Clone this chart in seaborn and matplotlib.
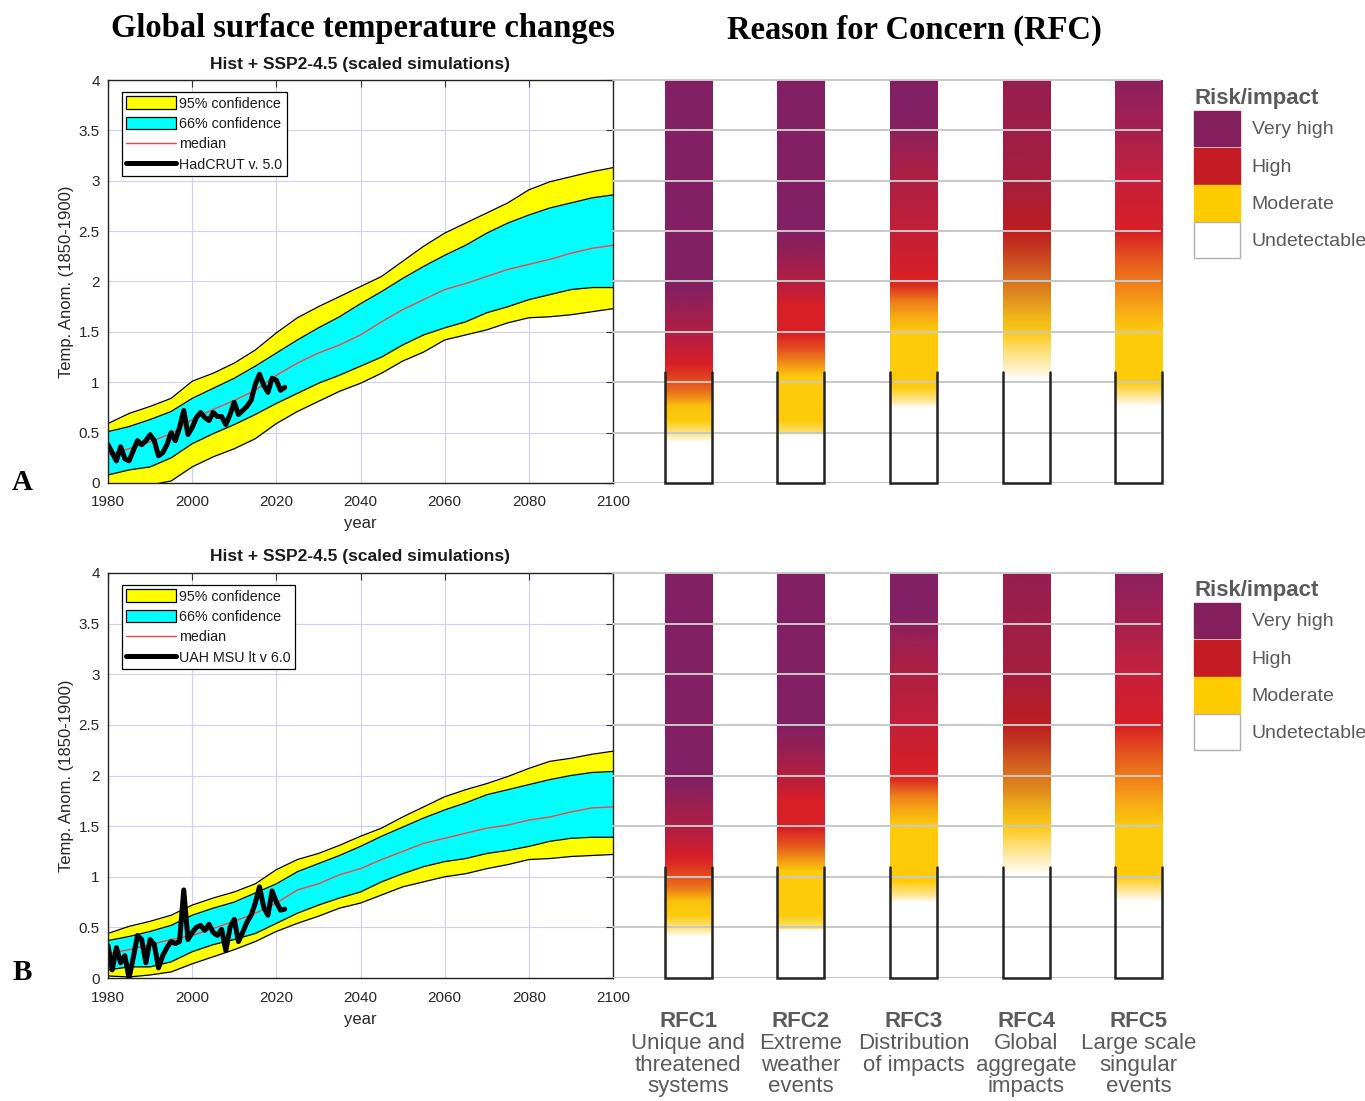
import numpy as np
import pandas as pd
import matplotlib
matplotlib.use("Agg")
import matplotlib.pyplot as plt
import seaborn as sns
from matplotlib.colors import LinearSegmentedColormap
from matplotlib.patches import Patch
from matplotlib.lines import Line2D
from matplotlib import font_manager
from matplotlib.transforms import blended_transform_factory

# ---------------------------------------------------------------- data
band_years = list(range(1980, 2101, 5))

# Panel A: Hist + SSP2-4.5 scaled simulations (HadCRUT-scaled)
a_hi95 = [0.59, 0.69, 0.76, 0.84, 1.01, 1.09, 1.19, 1.32, 1.49, 1.64, 1.75, 1.85, 1.95,
          2.05, 2.20, 2.35, 2.48, 2.58, 2.68, 2.78, 2.91, 2.99, 3.04, 3.09, 3.13]
a_hi66 = [0.51, 0.56, 0.63, 0.71, 0.84, 0.94, 1.04, 1.16, 1.29, 1.42, 1.54, 1.65, 1.78,
          1.90, 2.03, 2.15, 2.26, 2.36, 2.48, 2.58, 2.66, 2.73, 2.78, 2.83, 2.86]
a_med = [0.28, 0.34, 0.41, 0.49, 0.63, 0.73, 0.82, 0.92, 1.07, 1.19, 1.29, 1.37, 1.47,
         1.60, 1.72, 1.82, 1.92, 1.98, 2.05, 2.12, 2.17, 2.22, 2.28, 2.33, 2.36]
a_lo66 = [0.08, 0.13, 0.16, 0.25, 0.39, 0.49, 0.58, 0.68, 0.79, 0.89, 0.99, 1.07, 1.16,
          1.25, 1.37, 1.47, 1.54, 1.60, 1.69, 1.75, 1.82, 1.87, 1.92, 1.94, 1.94]
a_lo95 = [-0.15, -0.08, -0.02, 0.02, 0.16, 0.26, 0.34, 0.44, 0.59, 0.71, 0.81, 0.91, 0.99,
          1.09, 1.21, 1.30, 1.42, 1.47, 1.52, 1.59, 1.64, 1.65, 1.67, 1.70, 1.73]

# Panel B: Hist + SSP2-4.5 scaled simulations (UAH-scaled)
b_hi95 = [0.44, 0.51, 0.56, 0.62, 0.72, 0.79, 0.85, 0.93, 1.07, 1.17, 1.23, 1.31, 1.40,
          1.48, 1.59, 1.69, 1.79, 1.86, 1.92, 1.99, 2.07, 2.14, 2.17, 2.21, 2.24]
b_hi66 = [0.37, 0.41, 0.46, 0.52, 0.62, 0.69, 0.75, 0.84, 0.93, 1.05, 1.13, 1.21, 1.30,
          1.40, 1.49, 1.58, 1.66, 1.73, 1.81, 1.86, 1.91, 1.96, 2.00, 2.03, 2.04]
b_med = [0.24, 0.28, 0.33, 0.38, 0.42, 0.49, 0.56, 0.64, 0.74, 0.87, 0.93, 1.02, 1.08,
         1.17, 1.25, 1.33, 1.38, 1.43, 1.48, 1.51, 1.56, 1.59, 1.64, 1.68, 1.69]
b_lo66 = [0.08, 0.11, 0.11, 0.16, 0.26, 0.33, 0.38, 0.44, 0.54, 0.64, 0.72, 0.79, 0.85,
          0.95, 1.03, 1.10, 1.15, 1.18, 1.23, 1.26, 1.30, 1.35, 1.38, 1.39, 1.39]
b_lo95 = [0.02, 0.01, 0.03, 0.06, 0.14, 0.21, 0.28, 0.36, 0.46, 0.54, 0.61, 0.69, 0.74,
          0.82, 0.90, 0.95, 1.00, 1.03, 1.08, 1.12, 1.17, 1.18, 1.20, 1.21, 1.22]

obs_years = list(range(1980, 2023))
hadcrut = [0.38, 0.30, 0.22, 0.36, 0.24, 0.22, 0.32, 0.42, 0.38, 0.42,
           0.48, 0.42, 0.27, 0.30, 0.38, 0.50, 0.42, 0.55, 0.72, 0.48,
           0.55, 0.65, 0.70, 0.65, 0.62, 0.70, 0.66, 0.66, 0.58, 0.68,
           0.80, 0.68, 0.72, 0.76, 0.82, 0.98, 1.08, 0.97, 0.90, 1.04,
           1.02, 0.92, 0.95]
uah = [0.32, 0.08, 0.30, 0.15, 0.22, 0.00, 0.20, 0.42, 0.38, 0.15,
       0.38, 0.33, 0.10, 0.22, 0.30, 0.36, 0.34, 0.36, 0.87, 0.38,
       0.45, 0.50, 0.52, 0.47, 0.53, 0.45, 0.42, 0.48, 0.27, 0.50,
       0.58, 0.36, 0.45, 0.55, 0.62, 0.74, 0.90, 0.70, 0.62, 0.86,
       0.75, 0.67, 0.68]

# Reasons for concern: colour stops along the warming axis (degC, colour)
rfc_names = ["RFC1", "RFC2", "RFC3", "RFC4", "RFC5"]
rfc_desc = ["Unique and\nthreatened\nsystems", "Extreme\nweather\nevents",
            "Distribution\nof impacts", "Global\naggregate\nimpacts",
            "Large scale\nsingular\nevents"]
rfc1_stops = [(0.0, "#ffffff"), (0.40, "#ffffff"), (0.48, "#fee48a"), (0.62, "#fecb0a"),
              (0.75, "#fbc20c"), (0.90, "#ea6f1c"), (1.05, "#e0401f"), (1.18, "#d81f26"),
              (1.45, "#b41f42"), (1.65, "#a0204c"), (1.95, "#832063"), (4.0, "#832063")]
rfc2_stops = [(0.0, "#ffffff"), (0.47, "#ffffff"), (0.475, "#fee17a"), (0.62, "#fecb0a"),
              (1.05, "#fecb0a"), (1.18, "#f09018"), (1.32, "#e5521f"), (1.48, "#d81f26"),
              (1.75, "#d81f26"), (2.0, "#b41f42"), (2.3, "#922056"), (2.5, "#832063"),
              (4.0, "#832063")]
rfc3_stops = [(0.0, "#ffffff"), (0.74, "#ffffff"), (0.80, "#fee9a0"), (0.95, "#fecb0a"),
              (1.5, "#fecb0a"), (1.65, "#f6ab15"), (1.8, "#ee7e1a"), (1.95, "#dc3022"),
              (2.05, "#d81f26"), (2.5, "#c22038"), (3.0, "#b01f42"), (3.3, "#9e2050"),
              (3.6, "#832063"), (4.0, "#832063")]
rfc4_stops = [(0.0, "#ffffff"), (1.02, "#ffffff"), (1.1, "#fff4d6"), (1.3, "#fde07a"),
              (1.5, "#fdc710"), (1.65, "#f0b51a"), (1.85, "#e08c1e"), (2.1, "#d4621f"),
              (2.35, "#c43420"), (2.5, "#be1e22"), (2.7, "#b41d2c"), (3.0, "#a61e3e"),
              (3.5, "#9e1e48"), (4.0, "#961e50")]
rfc5_stops = [(0.0, "#ffffff"), (0.75, "#ffffff"), (0.85, "#fee7a0"), (1.0, "#fecb0a"),
              (1.5, "#fecb0a"), (1.75, "#f6a616"), (2.0, "#ee7a1a"), (2.25, "#e4501f"),
              (2.5, "#d81f26"), (3.0, "#c7203c"), (3.5, "#a6214f"), (4.0, "#8c2060")]
rfc_stops = [rfc1_stops, rfc2_stops, rfc3_stops, rfc4_stops, rfc5_stops]
current_warming = 1.1

risk_levels = ["Very high", "High", "Moderate", "Undetectable"]
risk_colors = ["#841f5e", "#c41c22", "#fecb00", "#ffffff"]

# ---------------------------------------------------------------- style
sns.set_theme(style="white")
names = {f.name for f in font_manager.fontManager.ttflist}
SANS = "Liberation Sans" if "Liberation Sans" in names else "DejaVu Sans"
NARROW = "Liberation Sans Narrow" if "Liberation Sans Narrow" in names else SANS
SERIF = "Liberation Serif" if "Liberation Serif" in names else "DejaVu Serif"
plt.rcParams["font.family"] = [SANS, "DejaVu Sans"]

W, H = 1365, 1101
fig = plt.figure(figsize=(W / 100, H / 100), dpi=100)


def box(left, top, right, bottom):
    return [left / W, 1 - bottom / H, (right - left) / W, (bottom - top) / H]


TEXT_GREY = "#5a5a5a"


def temp_panel(rect, hi95, hi66, med, lo66, lo95, obs, obs_label):
    ax = fig.add_axes(rect)
    ax.fill_between(band_years, lo95, hi95, color="#ffff00", lw=0, zorder=2)
    ax.fill_between(band_years, lo66, hi66, color="#00ffff", lw=0, zorder=3)
    for edge in (hi95, hi66, lo66, lo95):
        ax.plot(band_years, edge, color="black", lw=0.9, zorder=4)
    sns.lineplot(x=band_years, y=med, ax=ax, color="#ff4040", lw=1.0, zorder=5)
    sns.lineplot(x=obs_years, y=obs, ax=ax, color="black", lw=3.6, zorder=6)
    ax.set_xlim(1980, 2100)
    ax.set_ylim(0, 4)
    ax.set_xticks(range(1980, 2101, 20))
    yt = np.arange(0, 4.01, 0.5)
    ax.set_yticks(yt)
    ax.set_yticklabels([f"{v:g}" for v in yt])
    ax.grid(True, color="#cfcff5", lw=0.8, zorder=0)
    ax.set_axisbelow(True)
    ax.tick_params(direction="in", top=True, right=True, length=5, width=0.8,
                   color="#333333", labelsize=11, labelcolor="#262626")
    ax.tick_params(axis="x", pad=9)
    ax.tick_params(axis="y", pad=6)
    for s in ax.spines.values():
        s.set_color("#222222")
        s.set_linewidth(1.0)
        s.set_zorder(7)
    ax.set_ylabel("Temp. Anom. (1850-1900)", fontsize=12, color="#262626", va="center")
    ax.yaxis.set_label_coords(-0.083, 0.5)
    ax.set_xlabel("year", fontsize=12, color="#262626", va="center")
    ax.xaxis.set_label_coords(0.5, -41 / 403)
    ax.text(0.5, 1 + 16 / 403, "Hist + SSP2-4.5 (scaled simulations)", transform=ax.transAxes,
            ha="center", va="center", fontsize=12.5, fontweight="bold", color="#1a1a1a")
    handles = [Patch(facecolor="#ffff00", edgecolor="black", lw=0.9),
               Patch(facecolor="#00ffff", edgecolor="black", lw=0.9),
               Line2D([], [], color="#ff4040", lw=1.0),
               Line2D([], [], color="black", lw=3.6)]
    leg = ax.legend(handles, ["95% confidence", "66% confidence", "median", obs_label],
                    loc="upper left", bbox_to_anchor=(14 / 505, 1 - 12 / 403),
                    borderaxespad=0, frameon=True, fancybox=False, framealpha=1,
                    edgecolor="black", fontsize=10.3, handlelength=3.5, handleheight=1.0,
                    handletextpad=0.2, labelspacing=0.42, borderpad=0.3)
    leg.get_frame().set_linewidth(0.9)
    leg.set_zorder(10)
    for t in leg.get_texts():
        t.set_color("#1a1a1a")
    return ax


def rfc_panel(rect, legend_top, with_labels):
    ax = fig.add_axes(rect)
    ax.set_facecolor("none")
    xlim = (-0.670, 4.19)
    width = 0.418
    grid_t = np.linspace(0, 4, 801)[:, None]
    for i, stops in enumerate(rfc_stops):
        cmap = LinearSegmentedColormap.from_list(rfc_names[i], [(t / 4, c) for t, c in stops])
        ax.imshow(grid_t, cmap=cmap, vmin=0, vmax=4, origin="lower", aspect="auto",
                  extent=(i - width / 2, i + width / 2, 0, 4), interpolation="bilinear",
                  zorder=2, clip_on=False)
    ax.set_xlim(*xlim)
    ax.set_ylim(0, 4)
    ax.axis("off")
    ax.axhline(0, color="#c4c4c4", lw=2.2, zorder=1)
    for lvl in np.arange(0.5, 4.01, 0.5):
        ax.axhline(lvl, color="#c8c8c8", lw=1.4, zorder=3, clip_on=False)
    for i in range(len(rfc_names)):
        ax.plot([i - width / 2, i - width / 2, i + width / 2, i + width / 2],
                [current_warming, 0, 0, current_warming], color="#222222", lw=1.8,
                zorder=4, solid_joinstyle="miter", clip_on=False)
    # risk legend
    handles = [Patch(facecolor=c, edgecolor=("#b0b0b0" if c == "#ffffff" else c), lw=1.0)
               for c in risk_colors]
    leg = fig.legend(handles, risk_levels, loc="upper left",
                     bbox_to_anchor=(1194 / W, 1 - legend_top / H), frameon=False,
                     title="Risk/impact", alignment="left",
                     handlelength=2.37, handleheight=2.45, labelspacing=0.08,
                     handletextpad=0.6, borderaxespad=0, borderpad=0,
                     prop={"family": NARROW, "size": 14},
                     title_fontproperties={"family": NARROW, "size": 16, "weight": "bold"})
    leg.get_title().set_color(TEXT_GREY)
    for t in leg.get_texts():
        t.set_color(TEXT_GREY)
    if with_labels:
        tr = blended_transform_factory(ax.transData, ax.transAxes)
        for i, (name, desc) in enumerate(zip(rfc_names, rfc_desc)):
            ax.text(i, -33 / 405, name, transform=tr, ha="center", va="top",
                    family=NARROW, fontsize=16, fontweight="bold", color=TEXT_GREY)
            ax.text(i, -55 / 405, desc, transform=tr, ha="center", va="top",
                    family=NARROW, fontsize=16, color=TEXT_GREY, linespacing=1.04)
    return ax


temp_panel(box(108, 80, 613, 483), a_hi95, a_hi66, a_med, a_lo66, a_lo95, hadcrut,
           "HadCRUT v. 5.0")
temp_panel(box(108, 573, 613, 978), b_hi95, b_hi66, b_med, b_lo66, b_lo95, uah,
           "UAH MSU lt v 6.0")
rfc_panel(box(613, 80, 1160, 483), 88, False)
rfc_panel(box(613, 573, 1160, 978), 580, True)

fig.text(363 / W, 1 - 28 / H, "Global surface temperature changes", ha="center", va="center",
         family=SERIF, fontweight="bold", fontsize=23.5, color="black")
fig.text(914 / W, 1 - 30 / H, "Reason for Concern (RFC)", ha="center", va="center",
         family=SERIF, fontweight="bold", fontsize=23.5, color="black")
fig.text(22 / W, 1 - 482 / H, "A", ha="center", va="center", family=SERIF,
         fontweight="bold", fontsize=21, color="black")
fig.text(22 / W, 1 - 972 / H, "B", ha="center", va="center", family=SERIF,
         fontweight="bold", fontsize=21, color="black")

fig.savefig("out.png", dpi=100, facecolor="white")
